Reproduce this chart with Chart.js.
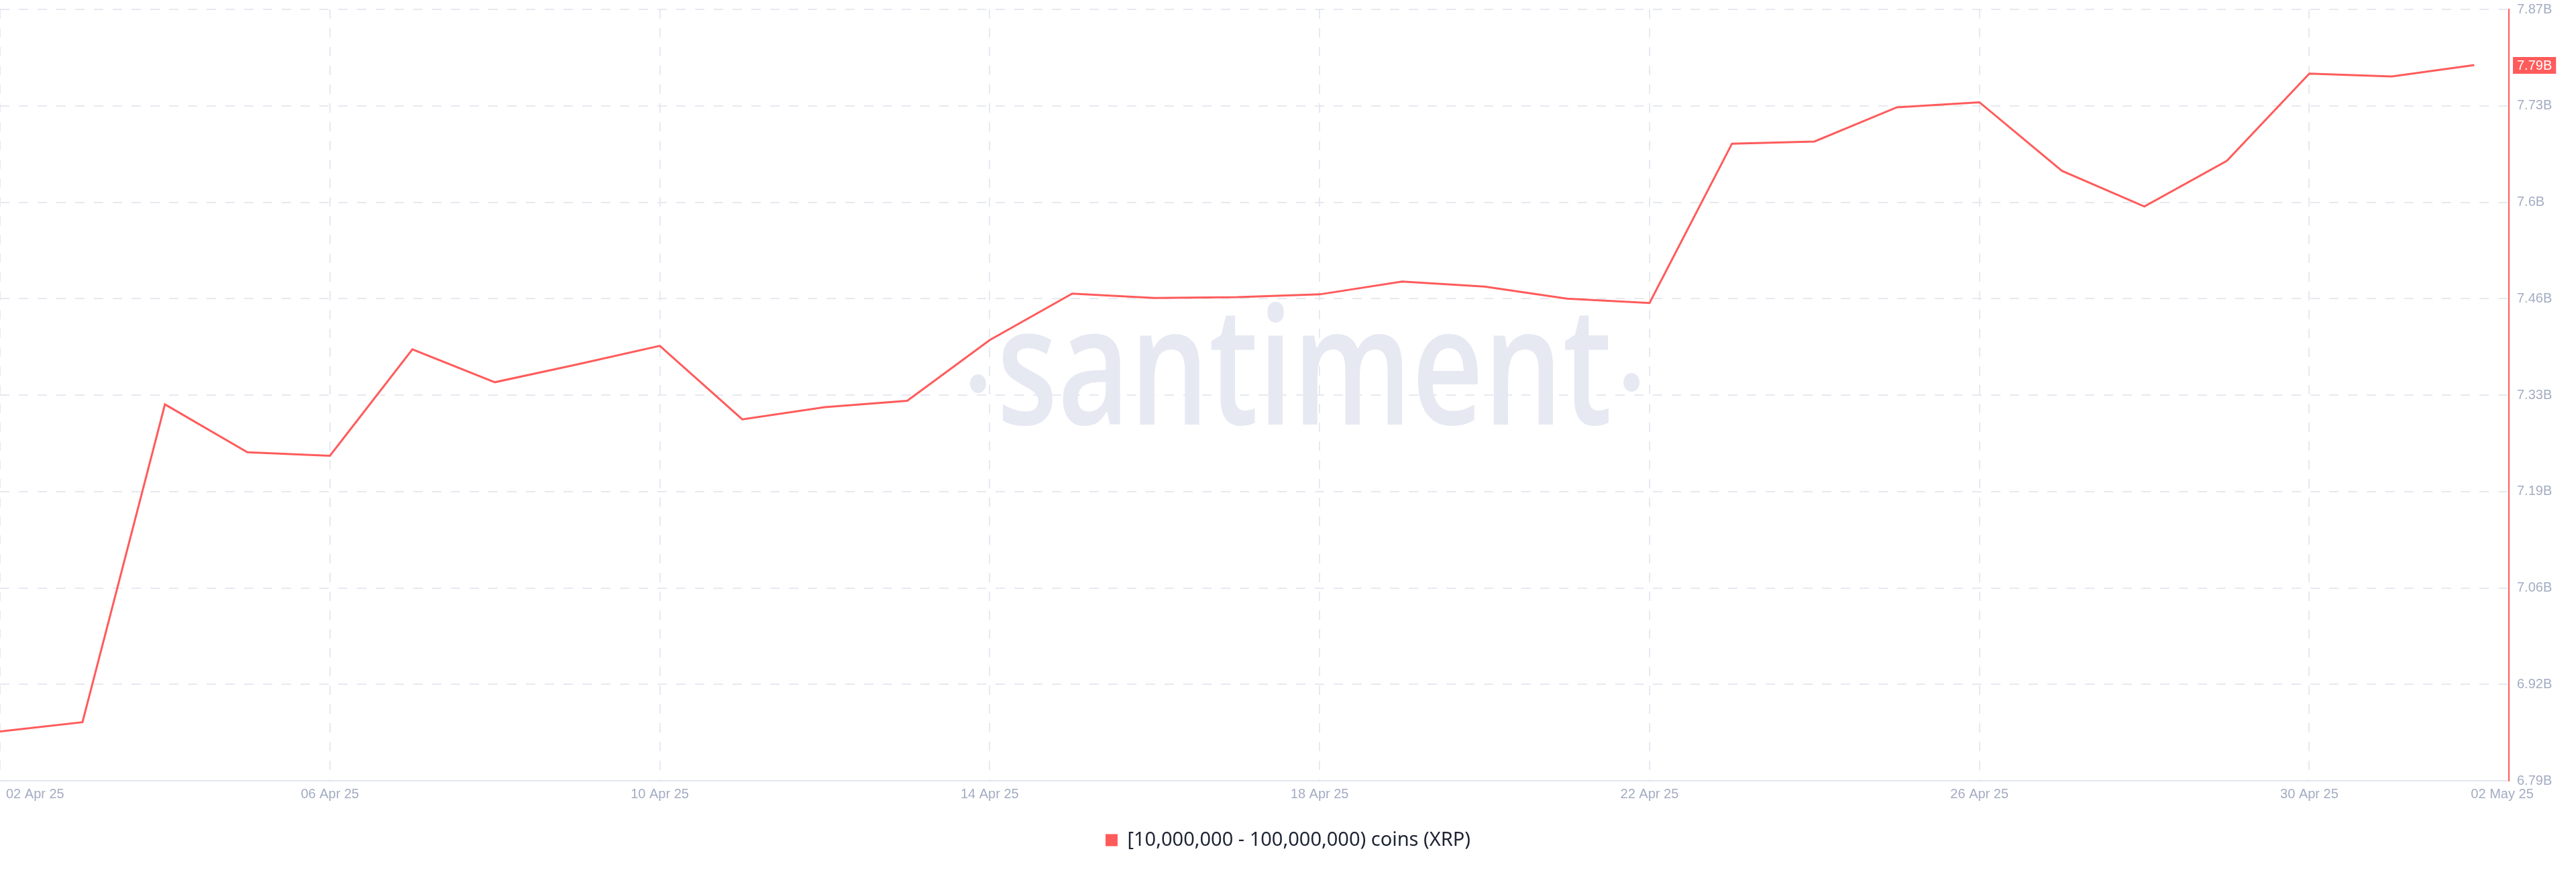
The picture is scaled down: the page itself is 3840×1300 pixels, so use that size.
<!DOCTYPE html>
<html>
<head>
<meta charset="utf-8">
<script src="https://cdn.jsdelivr.net/npm/chart.js@4.4.1/dist/chart.umd.min.js"></script>
<style>
    html, body { margin: 0; padding: 0; background: #fff; }
    #wrap { width: 3840px; height: 1300px; }
</style>
</head>
<body>
<div id="wrap"><canvas id="holdersChart"></canvas></div>
<script>
    // Daily values, in billions of XRP
    const dates = [
        '02 Apr 25', '03 Apr 25', '04 Apr 25', '05 Apr 25', '06 Apr 25', '07 Apr 25', '08 Apr 25',
        '09 Apr 25', '10 Apr 25', '11 Apr 25', '12 Apr 25', '13 Apr 25', '14 Apr 25', '15 Apr 25',
        '16 Apr 25', '17 Apr 25', '18 Apr 25', '19 Apr 25', '20 Apr 25', '21 Apr 25', '22 Apr 25',
        '23 Apr 25', '24 Apr 25', '25 Apr 25', '26 Apr 25', '27 Apr 25', '28 Apr 25', '29 Apr 25',
        '30 Apr 25', '01 May 25', '02 May 25'
    ];
    const values = [
        6.859, 6.872, 7.317, 7.250, 7.245, 7.394, 7.348, 7.373, 7.399, 7.296, 7.313,
        7.322, 7.407, 7.472, 7.466, 7.467, 7.471, 7.489, 7.482, 7.465, 7.459, 7.682,
        7.685, 7.733, 7.740, 7.644, 7.594, 7.658, 7.780, 7.776, 7.792
    ];
    const xTickIdx = [0, 4, 8, 12, 16, 20, 24, 28, 30];
    const yTickValues = [6.79, 6.925, 7.06, 7.195, 7.33, 7.465, 7.6, 7.735, 7.87];
    const yTickLabels = ['6.79B', '6.92B', '7.06B', '7.19B', '7.33B', '7.46B', '7.6B', '7.73B', '7.87B'];
    const seriesName = '[10,000,000 - 100,000,000) coins (XRP)';

    const red = '#ff5b5b';
    const tickColor = '#a3acc2';
    const gridColor = '#e7e9f1';
    const tickFont = '"Liberation Sans", Arial, sans-serif';

    // santiment watermark behind everything
    const watermark = {
        id: 'watermark',
        beforeDraw(chart) {
            const ctx = chart.ctx;
            ctx.save();
            ctx.fillStyle = '#e6e9f2';
            ctx.font = '600 245px "Open Sans"';
            const w = ctx.measureText('santiment').width;
            ctx.translate(1486, 633);
            ctx.scale(917 / w, 1);
            ctx.textAlign = 'left';
            ctx.textBaseline = 'alphabetic';
            ctx.fillText('santiment', 0, 0);
            ctx.restore();
            ctx.save();
            ctx.fillStyle = '#e6e9f2';
            ctx.beginPath();
            ctx.ellipse(1458, 572, 12, 14, 0, 0, Math.PI * 2);
            ctx.ellipse(2432, 570, 12, 14, 0, 0, Math.PI * 2);
            ctx.fill();
            ctx.restore();
        }
    };

    // x labels: first one pushed inside, last one shifted right
    const xLabels = {
        id: 'xLabels',
        afterDraw(chart) {
            const { ctx, chartArea } = chart;
            const x = chart.scales.x;
            ctx.save();
            ctx.font = '20px ' + tickFont;
            ctx.fillStyle = tickColor;
            ctx.textBaseline = 'alphabetic';
            xTickIdx.forEach((idx, i) => {
                const px = x.getPixelForValue(idx);
                let tx = px;
                ctx.textAlign = 'center';
                if (i === 0) { ctx.textAlign = 'left'; tx = px + 9; }
                if (i === xTickIdx.length - 1) { ctx.textAlign = 'left'; tx = px - 5; }
                ctx.fillText(dates[idx], tx, chartArea.bottom + 26);
            });
            ctx.restore();
        }
    };

    // last value badge on the right axis
    const lastBadge = {
        id: 'lastBadge',
        afterDraw(chart) {
            const { ctx, chartArea } = chart;
            const last = values[values.length - 1];
            const y = chart.scales.y.getPixelForValue(last);
            const text = last.toFixed(2) + 'B';
            ctx.save();
            ctx.font = '20px ' + tickFont;
            const w = ctx.measureText(text).width;
            ctx.fillStyle = red;
            ctx.fillRect(chartArea.right + 6, Math.round(y - 12.5), w + 12, 25);
            ctx.fillStyle = '#ffffff';
            ctx.textAlign = 'left';
            ctx.textBaseline = 'middle';
            ctx.fillText(text, chartArea.right + 12, y + 1);
            ctx.restore();
        }
    };

    document.addEventListener('DOMContentLoaded', function() {
        const ctx = document.getElementById('holdersChart').getContext('2d');

        const chart = new Chart(ctx, {
            type: 'line',
            data: {
                datasets: [{
                    label: seriesName,
                    data: values.map((v, i) => ({ x: i, y: v })),
                    borderColor: red,
                    backgroundColor: red,
                    borderWidth: 3,
                    pointRadius: 0,
                    tension: 0,
                    fill: false
                }]
            },
            options: {
                responsive: true,
                maintainAspectRatio: false,
                animation: false,
                events: [],
                layout: {
                    padding: { top: 14, right: 0, bottom: 23, left: 0 }
                },
                plugins: {
                    tooltip: { enabled: false },
                    legend: {
                        position: 'bottom',
                        labels: {
                            boxWidth: 18,
                            boxHeight: 18,
                            padding: 10,
                            color: '#1d2433',
                            font: { family: '"Noto Sans"', size: 29 },
                            generateLabels: c => Chart.defaults.plugins.legend.labels.generateLabels(c)
                                .map(l => ({ ...l, fillStyle: red, strokeStyle: red, lineWidth: 0 }))
                        }
                    }
                },
                scales: {
                    x: {
                        type: 'linear',
                        min: 0,
                        max: 30.42,
                        afterBuildTicks: s => {
                            s.ticks = xTickIdx.filter(v => v < 30).map(v => ({ value: v }));
                        },
                        afterFit: s => { s.height = 64; },
                        grid: {
                            color: gridColor,
                            lineWidth: 2,
                            drawTicks: false
                        },
                        border: {
                            display: true,
                            color: '#e3e6ef',
                            width: 2,
                            dash: [14, 14]
                        },
                        ticks: { display: false }
                    },
                    y: {
                        position: 'right',
                        min: 6.79,
                        max: 7.87,
                        afterBuildTicks: s => {
                            s.ticks = yTickValues.map(v => ({ value: v }));
                        },
                        afterFit: s => {
                            s.width = 100;
                            s.paddingTop = 10;
                            s.paddingBottom = 0;
                        },
                        grid: {
                            color: gridColor,
                            lineWidth: 2,
                            drawTicks: false
                        },
                        border: {
                            display: true,
                            color: red,
                            width: 2,
                            dash: [14, 14]
                        },
                        ticks: {
                            padding: 12,
                            color: tickColor,
                            font: { family: tickFont, size: 20 },
                            callback: (v, i) => yTickLabels[i]
                        }
                    }
                }
            },
            plugins: [watermark, xLabels, lastBadge]
        });
    });
</script>
</body>
</html>
